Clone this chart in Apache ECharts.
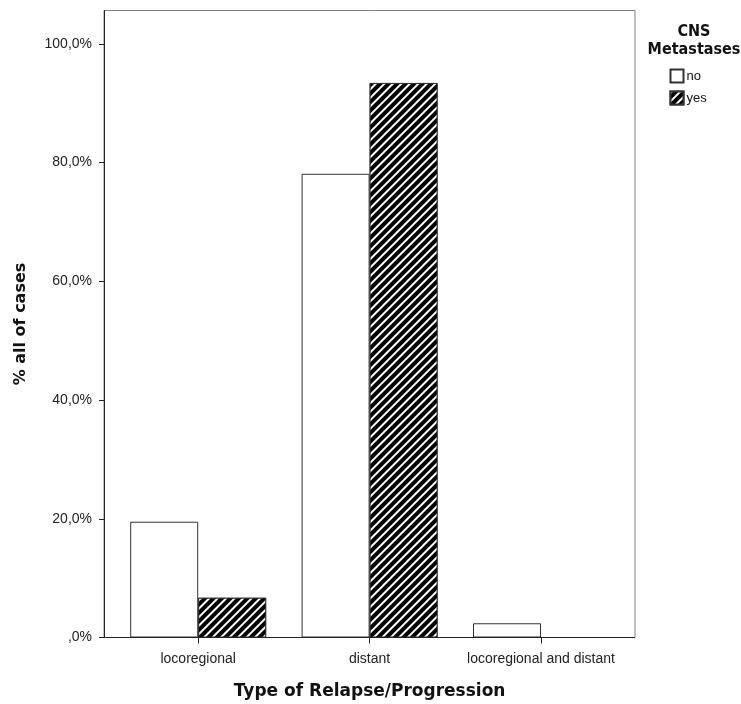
<!DOCTYPE html>
<html>
<head>
<meta charset="utf-8">
<script src="https://cdn.jsdelivr.net/npm/echarts@6/dist/echarts.min.js"></script>
<style>
  html, body { margin: 0; padding: 0; background: #fff; }
  #chart { width: 741px; height: 704px; }
</style>
</head>
<body>
<div id="chart"></div>
<script>
// Relapse type by CNS metastasis status (% of all cases)
const categories = ['locoregional', 'distant', 'locoregional and distant'];
const seriesNames = ['no', 'yes'];
const valuesNo = [19.5, 78.1, 2.4];
const valuesYes = [6.7, 93.4, 0];
const yTicks = [0, 20, 40, 60, 80, 100];

const FONT = '"Liberation Sans", Arial, sans-serif';
const FONT_BOLD = '"DejaVu Sans", "Liberation Sans", sans-serif';
const FONT_NARROW = '"DejaVu Sans Condensed", "DejaVu Sans", sans-serif';

const chart = echarts.init(document.getElementById('chart'), null, { renderer: 'canvas' });

// plot frame (gray box) and baseline spanning the frame
const frame = { left: 104, top: 10.5, right: 635, bottom: 637.5 };

const hatch = {
  symbol: 'rect',
  symbolSize: 1,
  color: '#ffffff',
  backgroundColor: '#000000',
  dashArrayX: [1, 0],
  dashArrayY: [2, 4],
  rotation: -Math.PI / 4
};

// empty bars get no outline
const toItems = vals => vals.map(v => (v === 0 ? { value: v, itemStyle: { borderWidth: 0 } } : v));

chart.setOption({
  animation: false,
  backgroundColor: '#ffffff',
  textStyle: { fontFamily: FONT },
  grid: {
    left: 112.5,
    right: 741 - 626.7,
    top: frame.top,
    bottom: 704 - frame.bottom,
    containLabel: false,
    outerBoundsMode: 'none'
  },
  legend: {
    data: seriesNames,
    orient: 'vertical',
    left: 669.5,
    top: 68.5,
    padding: 0,
    itemWidth: 13,
    itemHeight: 13,
    itemGap: 7,
    icon: 'rect',
    selectedMode: false,
    textStyle: { fontFamily: FONT, fontSize: 13, color: '#111', padding: [0, 0, 0, -2] }
  },
  xAxis: {
    type: 'category',
    data: categories,
    name: 'Type of Relapse/Progression',
    nameLocation: 'middle',
    nameGap: 46,
    nameTextStyle: { fontFamily: FONT_BOLD, fontSize: 17, fontWeight: 'bold', color: '#111' },
    axisLine: { show: false },
    axisTick: { show: true, alignWithLabel: true, length: 6, lineStyle: { color: '#222', width: 1 } },
    axisLabel: { fontFamily: FONT, fontSize: 14, color: '#222', margin: 15, interval: 0 },
    splitLine: { show: false }
  },
  yAxis: {
    type: 'value',
    min: 0,
    max: 105.6,
    offset: 8.5,
    name: '% all of cases',
    nameLocation: 'middle',
    nameGap: 75,
    nameTextStyle: { fontFamily: FONT_BOLD, fontSize: 16, fontWeight: 'bold', color: '#111' },
    axisLine: { show: true, lineStyle: { color: '#222', width: 1 } },
    axisTick: { show: true, length: 5, customValues: yTicks, lineStyle: { color: '#222', width: 1 } },
    axisLabel: {
      fontFamily: FONT, fontSize: 14, color: '#222', margin: 12,
      customValues: yTicks,
      formatter: v => (v === 0 ? '' : String(v)) + ',0%'
    },
    splitLine: { show: false }
  },
  series: [
    {
      name: seriesNames[0],
      type: 'bar',
      data: toItems(valuesNo),
      barWidth: 68,
      barGap: '0%',
      itemStyle: { color: '#ffffff', borderColor: '#333333', borderWidth: 1 }
    },
    {
      name: seriesNames[1],
      type: 'bar',
      data: toItems(valuesYes),
      barWidth: 68,
      barGap: '0%',
      itemStyle: { color: '#000000', borderColor: '#333333', borderWidth: 1, decal: hatch }
    }
  ],
  graphic: [
    {
      type: 'rect',
      silent: true,
      z: 0,
      shape: { x: frame.left, y: frame.top, width: frame.right - frame.left, height: frame.bottom - frame.top },
      style: { fill: 'none', stroke: '#808080', lineWidth: 1 }
    },
    {
      type: 'line',
      silent: true,
      z: 10,
      shape: { x1: frame.left, y1: frame.bottom, x2: frame.right, y2: frame.bottom },
      style: { stroke: '#222', lineWidth: 1 }
    },
    {
      type: 'text',
      silent: true,
      style: {
        text: 'CNS\nMetastases',
        x: 694, y: 23,
        align: 'center',
        verticalAlign: 'top',
        font: 'bold 16px ' + FONT_NARROW,
        lineHeight: 18,
        fill: '#111'
      }
    }
  ]
});
</script>
</body>
</html>
